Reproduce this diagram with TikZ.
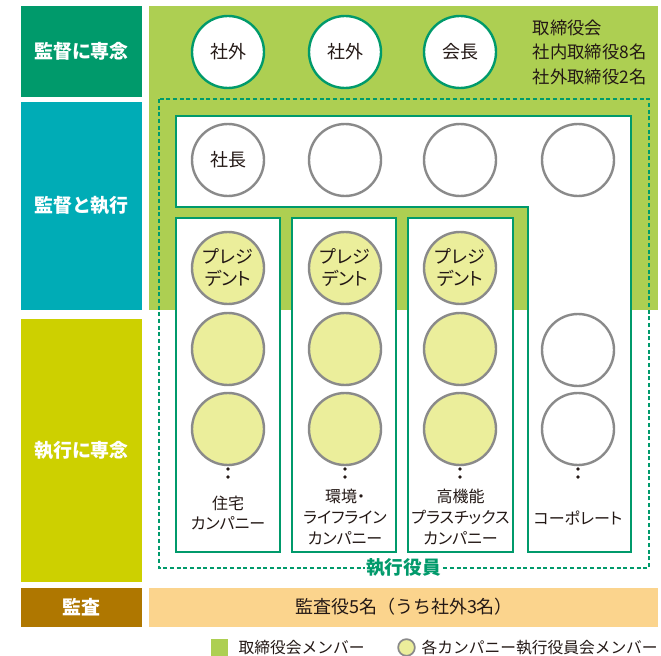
\documentclass[tikz,border=0pt]{standalone}
\usepackage{fontspec}
\setmainfont{Noto Sans CJK JP}
\newfontfamily\paltfont[RawFeature=+palt]{Noto Sans CJK JP}
\definecolor{dgreen}{HTML}{009A6B}
\definecolor{teal}{HTML}{00ACB6}
\definecolor{ygreen}{HTML}{CDD000}
\definecolor{brownc}{HTML}{AF7700}
\definecolor{lgreen}{HTML}{ADCF52}
\definecolor{lorange}{HTML}{FBD48D}
\definecolor{lyellow}{HTML}{EBEE9B}
\definecolor{grayc}{HTML}{8A8A8A}
\definecolor{txt}{HTML}{231815}
\begin{document}
\begin{tikzpicture}[x=0.75pt,y=-0.75pt,
  lbl/.style={text=white,font=\fontsize{14.2}{17}\selectfont\bfseries},
  topc/.style={circle,draw=dgreen,line width=1.8pt,fill=white,minimum size=54pt,inner sep=0pt,text=txt,font=\fontsize{13.5}{16}\selectfont},
  gc/.style={circle,draw=grayc,line width=1.8pt,fill=white,minimum size=54pt,inner sep=0pt,text=txt,align=center,font=\paltfont\fontsize{13.5}{16.5}\selectfont},
  yc/.style={gc,fill=lyellow},
  gbox/.style={draw=dgreen,line width=1.8pt,fill=white},
  clbl/.style={text=txt,align=center,font=\paltfont\fontsize{12}{15.4}\selectfont},
  dotc/.style={circle,fill=txt,inner sep=0pt,minimum size=2.8pt},
]
\useasboundingbox (0,0) rectangle (661,656);
% left column
\fill[dgreen] (21,6) rectangle (142,97);
\fill[teal] (21,102) rectangle (142,310);
\fill[ygreen] (21,319) rectangle (142,582);
\fill[brownc] (21,588) rectangle (142,627);
\node[lbl] (l1) at (81.5,51.5) {監督に専念};
\node[lbl] (l2) at (81.5,206) {監督と執行};
\node[lbl] (l3) at (81.5,450.5) {執行に専念};
\node[lbl] (l4) at (81.5,607.5) {監査};
% green board area
\fill[lgreen] (149,6) rectangle (658,310);
\node[topc] (o1) at (228,52) {社外};
\node[topc] (o2) at (345,52) {社外};
\node[topc] (ch) at (460,52) {会長};
\node[anchor=west,align=left,text=txt,font=\fontsize{13}{18.4}\selectfont] (bd) at (528,52) {取締役会\\社内取締役8名\\社外取締役2名};
% dashed executive officers frame
\draw[dgreen,line width=1.5pt,dash pattern=on 3pt off 2pt] (159,99) rectangle (649,568);
% L-shaped box
\draw[gbox] (176,116) -- (631,116) -- (631,552) -- (528,552) -- (528,207) -- (176,207) -- cycle;
% company boxes
\draw[gbox] (176,218) rectangle (280,552);
\draw[gbox] (292,218) rectangle (396,552);
\draw[gbox] (408,218) rectangle (513,552);
% top executive row
\node[gc] (p) at (228,160) {社長};
\node[gc] (e2) at (345,160) {};
\node[gc] (e3) at (460,160) {};
\node[gc] (e4) at (578,160) {};
% company circles
\foreach \x/\n in {228/a,345/b,460/c}{
  \node[yc] (\n1) at (\x,268) {プレジ\\デント};
  \node[yc] (\n2) at (\x,349) {};
  \node[yc] (\n3) at (\x,429) {};
  \node[dotc] (\n d1) at (\x,469) {};
  \node[dotc] (\n d2) at (\x,477) {};
}
\node[gc] (d2) at (578,350) {};
\node[gc] (d3) at (578,429) {};
\node[dotc] (dd1) at (578,469) {};
\node[dotc] (dd2) at (578,477) {};
\node[clbl] (ca) at (228,513) {住宅\\カンパニー};
\node[clbl] (cb) at (345,517) {環境・\\ライフライン\\カンパニー};
\node[clbl] (cc) at (460.5,517) {高機能\\プラスチックス\\カンパニー};
\node[clbl] (cd) at (578,518) {コーポレート};
\node[fill=white,inner xsep=1pt,inner ysep=0pt,text=dgreen,font=\fontsize{14}{16}\selectfont\bfseries] (ex) at (403.5,568) {執行役員};
% audit bar
\fill[lorange] (149,588) rectangle (658,627);
\node[text=txt,font=\fontsize{13.5}{16}\selectfont] (au) at (404,607) {監査役5名（うち社外3名）};
% legend
\fill[lgreen] (211,639) rectangle (228,656);
\node[anchor=west,text=txt,font=\fontsize{11.8}{14}\selectfont] (lg1) at (234,647.5) {取締役会メンバー};
\node[circle,draw=grayc,line width=1.3pt,fill=lyellow,minimum size=12.5pt,inner sep=0pt] (lgc) at (406.5,647.5) {};
\node[anchor=west,text=txt,font=\fontsize{11.8}{14}\selectfont] (lg2) at (417,647.5) {各カンパニー執行役員会メンバー};
\end{tikzpicture}
\end{document}
